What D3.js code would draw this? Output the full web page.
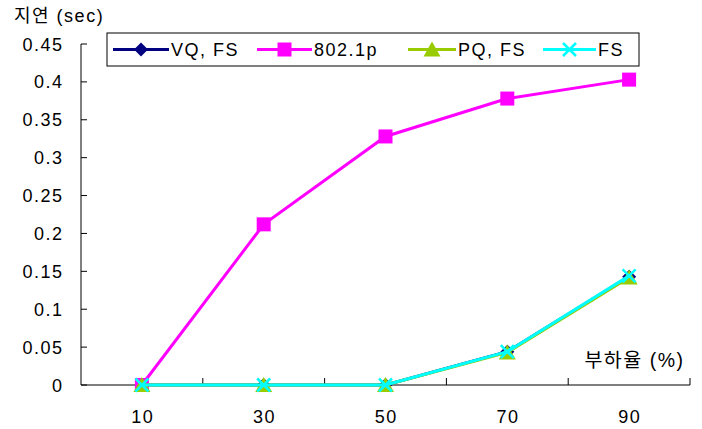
<!DOCTYPE html>
<html><head><meta charset="utf-8">
<script src="https://cdn.jsdelivr.net/npm/d3@7"></script>
<style>body{margin:0;background:#fff}svg text{font-family:"Liberation Sans","Noto Sans CJK KR",sans-serif;letter-spacing:1.5px;}</style>
</head><body>
<script>
const categories = ["10","30","50","70","90"];
const seriesNames = ["VQ, FS","802.1p","PQ, FS","FS"];
const vqfs = [0, 0, 0, 0.044, 0.143];
const p8021 = [0, 0.212, 0.328, 0.378, 0.403];
const pqfs = [0, 0, 0, 0.043, 0.142];
const fs = [0, 0, 0, 0.044, 0.144];
const yTicks = [0,0.05,0.1,0.15,0.2,0.25,0.3,0.35,0.4,0.45];
const colors = ["#000080","#ff00ff","#99cc00","#00ffff"];
const markers = ["diamond","square","triangle","x"];
const seriesData = [vqfs,p8021,pqfs,fs];

const W=702,H=429;
const svg=d3.select("body").append("svg").attr("width",W).attr("height",H);
const x=d3.scaleBand().domain(categories).range([81,690]);
const y=d3.scaleLinear().domain([0,0.45]).range([385,44]);

// y axis
svg.append("line").attr("x1",81).attr("x2",81).attr("y1",y(0.45)).attr("y2",y(0)).attr("stroke","#000");
yTicks.forEach(t=>{
  svg.append("line").attr("x1",81).attr("x2",87).attr("y1",y(t)).attr("y2",y(t)).attr("stroke","#000");
  svg.append("text").attr("x",63.5).attr("y",y(t)+6.5).attr("text-anchor","end").attr("font-size",18).text(String(t));
});
// x axis
svg.append("line").attr("x1",81).attr("x2",690).attr("y1",y(0)).attr("y2",y(0)).attr("stroke","#000");
const bounds=categories.map(c=>x(c)).concat([690]);
bounds.slice(1).forEach(b=>{
  svg.append("line").attr("x1",b).attr("x2",b).attr("y1",y(0)).attr("y2",y(0)-7).attr("stroke","#000");
});
categories.forEach(c=>{
  svg.append("text").attr("x",x(c)+x.bandwidth()/2+0.75).attr("y",423).attr("text-anchor","middle").attr("font-size",18).text(c);
});
svg.append("text").attr("x",14).attr("y",22).attr("font-size",18).text("지연 (sec)");
svg.append("text").attr("x",684.5).attr("y",367).attr("text-anchor","end").attr("font-size",19.5).text("부하율 (%)");

function drawMarker(g,type,cx,cy,color){
  if(type==="diamond"){
    g.append("path").attr("d",`M${cx},${cy-7}L${cx+7},${cy}L${cx},${cy+7}L${cx-7},${cy}Z`).attr("fill",color);
  } else if(type==="square"){
    g.append("rect").attr("x",cx-7).attr("y",cy-7).attr("width",14).attr("height",14).attr("fill",color);
  } else if(type==="triangle"){
    g.append("path").attr("d",`M${cx},${cy-8}L${cx+8.5},${cy+7}L${cx-8.5},${cy+7}Z`).attr("fill",color);
  } else {
    g.append("path").attr("d",`M${cx-6.5},${cy-6.5}L${cx+6.5},${cy+6.5}M${cx+6.5},${cy-6.5}L${cx-6.5},${cy+6.5}`).attr("stroke",color).attr("stroke-width",2.5);
  }
}
const line=d3.line().x((d,i)=>x(categories[i])+x.bandwidth()/2).y(d=>y(d));
seriesData.forEach((s,k)=>{
  const g=svg.append("g");
  g.append("path").attr("d",line(s)).attr("fill","none").attr("stroke",colors[k]).attr("stroke-width",3);
  s.forEach((v,i)=>drawMarker(g,markers[k],x(categories[i])+x.bandwidth()/2,y(v),colors[k]));
});

// legend
svg.append("rect").attr("x",107).attr("y",33).attr("width",532).attr("height",33).attr("fill","#fff").attr("stroke","#000");
const lx=[113,257,408,543];
const lw=[56,55,48,53];
seriesNames.forEach((n,k)=>{
  const g=svg.append("g");
  g.append("line").attr("x1",lx[k]).attr("x2",lx[k]+lw[k]).attr("y1",49.5).attr("y2",49.5).attr("stroke",colors[k]).attr("stroke-width",3);
  drawMarker(g,markers[k],lx[k]+lw[k]/2,49.5,colors[k]);
  g.append("text").attr("x",lx[k]+lw[k]+2).attr("y",56).attr("font-size",18).text(n);
});
</script>
</body></html>
